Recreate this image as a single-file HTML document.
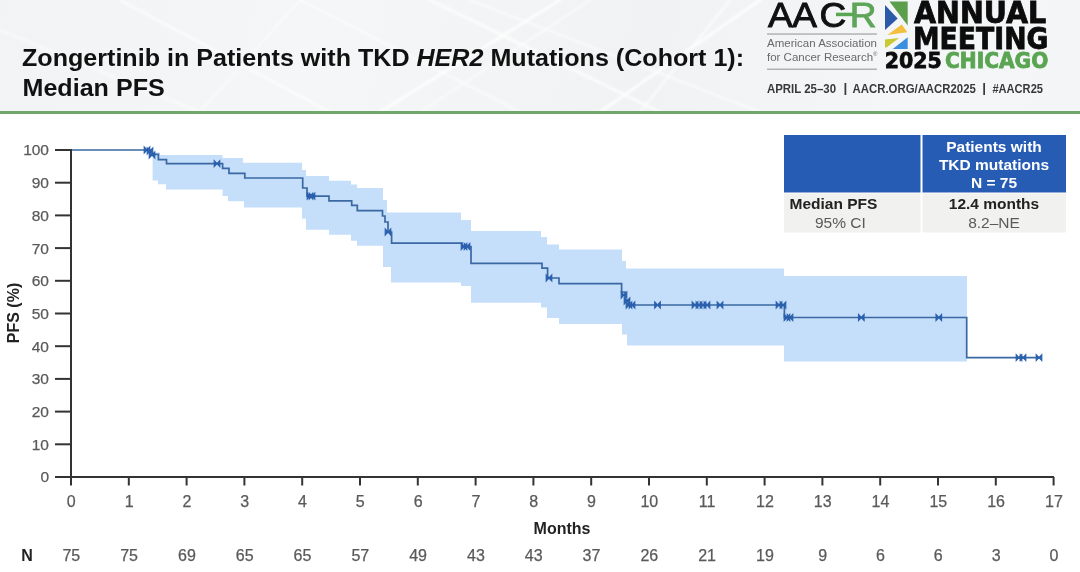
<!DOCTYPE html>
<html><head><meta charset="utf-8"><style>
html,body{margin:0;padding:0;}
body{width:1080px;height:572px;overflow:hidden;position:relative;background:#fff;font-family:"Liberation Sans",Arial,sans-serif;}
#hdr{position:absolute;left:0;top:0;width:1080px;height:112px;background:linear-gradient(100deg,#f1f3f4 0%,#f5f6f7 30%,#f1f2f4 60%,#f5f6f7 85%,#f4f5f6 100%);overflow:hidden;}
#green{position:absolute;left:0;top:111.2px;width:1080px;height:3.2px;background:#6fa66a;}
svg{position:absolute;left:0;top:0;}
</style></head><body>
<div id="hdr"><svg width="1080" height="112" viewBox="0 0 1080 112" style="position:absolute;left:0;top:0">
<defs><filter id="bl" x="-5%" y="-5%" width="110%" height="110%"><feGaussianBlur stdDeviation="1.2"/></filter></defs><g stroke="#ffffff" fill="none" filter="url(#bl)" stroke-linecap="round">
<line x1="120" y1="0" x2="330" y2="112" stroke-width="2.4" stroke-opacity="0.7"/>
<line x1="300" y1="0" x2="520" y2="112" stroke-width="2.0" stroke-opacity="0.6"/>
<line x1="430" y1="0" x2="660" y2="112" stroke-width="3.0" stroke-opacity="0.7"/>
<line x1="470" y1="0" x2="760" y2="112" stroke-width="2.0" stroke-opacity="0.6"/>
<line x1="380" y1="112" x2="560" y2="0" stroke-width="3.0" stroke-opacity="0.8"/>
<line x1="420" y1="112" x2="590" y2="0" stroke-width="2.0" stroke-opacity="0.6"/>
<line x1="600" y1="112" x2="760" y2="0" stroke-width="3.0" stroke-opacity="0.8"/>
<line x1="640" y1="112" x2="730" y2="0" stroke-width="2.0" stroke-opacity="0.7"/>
<line x1="200" y1="112" x2="300" y2="0" stroke-width="2.0" stroke-opacity="0.5"/>
<line x1="0" y1="30" x2="200" y2="112" stroke-width="4.0" stroke-opacity="0.4"/>
</g></svg></div>
<div id="green"></div>
<svg width="1080" height="572" viewBox="0 0 1080 572">
<g font-family="Liberation Sans, Arial, sans-serif" font-size="24" font-weight="bold" fill="#111" transform="translate(22,0) scale(1.046,1)">
<text x="0" y="66.2">Zongertinib in Patients with TKD <tspan font-style="italic">HER2</tspan> Mutations (Cohort 1):</text>
<text x="0.5" y="96.4">Median PFS</text>
</g>

<g>
<text transform="translate(768,27) scale(1.06,1)" x="0 23 48.6 77.2" y="0" font-family="Liberation Sans, Arial, sans-serif" font-size="35" fill="#111" stroke="#111" stroke-width="0.9">AAC<tspan fill="#5ea55a" stroke="#5ea55a">R</tspan></text>
<rect x="836" y="12.7" width="18" height="3.5" fill="#5aa552"/>
<rect x="767" y="33.4" width="110" height="1.3" fill="#a8a8a8"/>
<text x="767" y="47" font-family="Liberation Sans, Arial, sans-serif" font-size="11.5" fill="#6a6a6a">American Association</text>
<text x="767" y="60.5" font-family="Liberation Sans, Arial, sans-serif" font-size="11.5" fill="#6a6a6a">for Cancer Research<tspan font-size="6" dy="-5">®</tspan></text>
<rect x="767" y="68.6" width="110" height="1.3" fill="#a8a8a8"/>
<polygon points="889.5,1.4 907.7,1.4 907.7,25.5" fill="#5b9f4c"/>
<polygon points="885,5 885,30 897.7,18.6" fill="#2b5aa9"/>
<polygon points="887.3,35 901.8,24.5 907.3,32.3" fill="#f3bf3e"/>
<polygon points="885,39.5 899,38 886.5,47.5 885,47.5" fill="#c9c935"/>
<polygon points="907.7,37.3 907.7,49 892.7,49" fill="#3b8fde"/>
<g font-family="DejaVu Sans, sans-serif" font-weight="bold" fill="#0c0c0c" stroke="#0c0c0c" stroke-width="0.8">
<text x="0" y="0" font-size="29.5" transform="translate(914,22.9) scale(0.967,1)">ANNUAL</text>
<text x="0" y="0" font-size="29.5" transform="translate(913,48.6) scale(0.905,1)">MEETING</text>
<text x="0" y="0" font-size="20.5" transform="translate(884.8,68.3)">2025</text>
<text x="0" y="0" font-size="20.5" transform="translate(945,68.3) scale(0.985,1)" fill="#5aa552" stroke="#5aa552">CHICAGO</text>
</g>
<g font-family="Liberation Sans, Arial, sans-serif" font-size="12.5" font-weight="bold" fill="#383838">
<text x="767" y="92.6" textLength="69" lengthAdjust="spacingAndGlyphs">APRIL 25–30</text>
<text x="843.6" y="91.9" font-size="13.5">|</text>
<text x="852.6" y="92.6" textLength="123.2" lengthAdjust="spacingAndGlyphs">AACR.ORG/AACR2025</text>
<text x="982.3" y="91.9" font-size="13.5">|</text>
<text x="992.4" y="92.6" textLength="50.6" lengthAdjust="spacingAndGlyphs">#AACR25</text></g>
</g>
<path d="M152.6,152.5 H160 V155 H222.6 V158 H243 V162.8 H302 V170 H306 V176 H329 V180.8 H351 V184.5 H357 V188 H383 V200 H387 V212.6 H461 V220 H471 V231 H541 V237 H547 V244.5 H559 V249.4 H622 V261 H626 V268.4 H784 V276 H967 V361.4 H784 V345.5 H627 V334.5 H622 V324 H559 V318 H547 V307.6 H541 V302.7 H471 V286 H461 V282.4 H391 V267 H383 V245.7 H357 V240.8 H351 V234.7 H329 V229.8 H306 V218.8 H302 V207.5 H244 V201.3 H228 V196 H222.6 V189.5 H166 V184.2 H158 V180.4 H152.6 Z" fill="#c5defa"/>
<path d="M71,150 H150 V154.4 H158.4 V159.7 H166.5 V163.6 H222.6 V168.3 H229 V173.3 H244.8 V178 H302.7 V188 H307 V196.2 H329 V200.9 H351.7 V205.3 H357.3 V210.7 H382.5 V216 H385 V222 H388 V232 H391.6 V243.2 H462 V246.5 H471 V263.3 H542 V268.2 H547.6 V278 H559 V283.6 H621.6 V292 H625 V300 H629 V305 H784.4 V317.5 H966.7 V357.6 H1040" fill="none" stroke="#3a68a3" stroke-width="1.7"/>
<g stroke="#2a60ad" stroke-width="1.1" fill="#2a60ad" stroke-linejoin="miter"><path d="M144.2,147 L149.8,153 L149.8,147 L144.2,153 Z"/><path d="M147.2,148 L152.8,154 L152.8,148 L147.2,154 Z"/><path d="M149.2,152 L154.8,158 L154.8,152 L149.2,158 Z"/><path d="M214.2,160.6 L219.8,166.6 L219.8,160.6 L214.2,166.6 Z"/><path d="M307.2,193.2 L312.8,199.2 L312.8,193.2 L307.2,199.2 Z"/><path d="M309.2,193.2 L314.8,199.2 L314.8,193.2 L309.2,199.2 Z"/><path d="M385.2,229 L390.8,235 L390.8,229 L385.2,235 Z"/><path d="M461.2,243.5 L466.8,249.5 L466.8,243.5 L461.2,249.5 Z"/><path d="M464.2,243.5 L469.8,249.5 L469.8,243.5 L464.2,249.5 Z"/><path d="M546.2,275 L551.8,281 L551.8,275 L546.2,281 Z"/><path d="M621.2,292 L626.8,298 L626.8,292 L621.2,298 Z"/><path d="M624.2,298 L629.8,304 L629.8,298 L624.2,304 Z"/><path d="M626.2,302 L631.8,308 L631.8,302 L626.2,308 Z"/><path d="M629.2,302 L634.8,308 L634.8,302 L629.2,308 Z"/><path d="M654.7,302 L660.3,308 L660.3,302 L654.7,308 Z"/><path d="M692.2,302 L697.8,308 L697.8,302 L692.2,308 Z"/><path d="M696.2,302 L701.8,308 L701.8,302 L696.2,308 Z"/><path d="M700.2,302 L705.8,308 L705.8,302 L700.2,308 Z"/><path d="M704.2,302 L709.8,308 L709.8,302 L704.2,308 Z"/><path d="M717.2,302 L722.8,308 L722.8,302 L717.2,308 Z"/><path d="M776.2,302 L781.8,308 L781.8,302 L776.2,308 Z"/><path d="M780.2,302 L785.8,308 L785.8,302 L780.2,308 Z"/><path d="M784.2,314.5 L789.8,320.5 L789.8,314.5 L784.2,320.5 Z"/><path d="M787.2,314.5 L792.8,320.5 L792.8,314.5 L787.2,320.5 Z"/><path d="M858.5,314.5 L864.0999999999999,320.5 L864.0999999999999,314.5 L858.5,320.5 Z"/><path d="M936.0,314.5 L941.5999999999999,320.5 L941.5999999999999,314.5 L936.0,320.5 Z"/><path d="M1016.2,354.6 L1021.8,360.6 L1021.8,354.6 L1016.2,360.6 Z"/><path d="M1020.2,354.6 L1025.8,360.6 L1025.8,354.6 L1020.2,360.6 Z"/><path d="M1036.2,354.6 L1041.8,360.6 L1041.8,354.6 L1036.2,360.6 Z"/></g>
<g stroke="#333" stroke-width="2"><line x1="55" y1="477.0" x2="71" y2="477.0"/><line x1="55" y1="444.3" x2="71" y2="444.3"/><line x1="55" y1="411.6" x2="71" y2="411.6"/><line x1="55" y1="378.9" x2="71" y2="378.9"/><line x1="55" y1="346.2" x2="71" y2="346.2"/><line x1="55" y1="313.5" x2="71" y2="313.5"/><line x1="55" y1="280.8" x2="71" y2="280.8"/><line x1="55" y1="248.1" x2="71" y2="248.1"/><line x1="55" y1="215.4" x2="71" y2="215.4"/><line x1="55" y1="182.7" x2="71" y2="182.7"/><line x1="55" y1="150.0" x2="71" y2="150.0"/><line x1="71.0" y1="477" x2="71.0" y2="485.5"/><line x1="128.8" y1="477" x2="128.8" y2="485.5"/><line x1="186.6" y1="477" x2="186.6" y2="485.5"/><line x1="244.4" y1="477" x2="244.4" y2="485.5"/><line x1="302.2" y1="477" x2="302.2" y2="485.5"/><line x1="360.0" y1="477" x2="360.0" y2="485.5"/><line x1="417.8" y1="477" x2="417.8" y2="485.5"/><line x1="475.6" y1="477" x2="475.6" y2="485.5"/><line x1="533.4" y1="477" x2="533.4" y2="485.5"/><line x1="591.2" y1="477" x2="591.2" y2="485.5"/><line x1="649.0" y1="477" x2="649.0" y2="485.5"/><line x1="706.8" y1="477" x2="706.8" y2="485.5"/><line x1="764.6" y1="477" x2="764.6" y2="485.5"/><line x1="822.4" y1="477" x2="822.4" y2="485.5"/><line x1="880.2" y1="477" x2="880.2" y2="485.5"/><line x1="938.0" y1="477" x2="938.0" y2="485.5"/><line x1="995.8" y1="477" x2="995.8" y2="485.5"/><line x1="1053.6" y1="477" x2="1053.6" y2="485.5"/><line x1="71" y1="149" x2="71" y2="478"/><line x1="70" y1="477" x2="1054" y2="477"/></g>
<g font-family="Liberation Sans, Arial, sans-serif" font-size="15.5" fill="#5a5a5a" stroke="#5a5a5a" stroke-width="0.25" text-anchor="end"><text x="49" y="482.4">0</text><text x="49" y="449.7">10</text><text x="49" y="417.0">20</text><text x="49" y="384.3">30</text><text x="49" y="351.6">40</text><text x="49" y="318.9">50</text><text x="49" y="286.2">60</text><text x="49" y="253.5">70</text><text x="49" y="220.8">80</text><text x="49" y="188.1">90</text><text x="49" y="155.4">100</text></g>
<g font-family="Liberation Sans, Arial, sans-serif" font-size="16" fill="#5a5a5a" stroke="#5a5a5a" stroke-width="0.25" text-anchor="middle"><text x="71.3" y="507">0</text><text x="129.1" y="507">1</text><text x="186.9" y="507">2</text><text x="244.7" y="507">3</text><text x="302.5" y="507">4</text><text x="360.3" y="507">5</text><text x="418.1" y="507">6</text><text x="475.9" y="507">7</text><text x="533.7" y="507">8</text><text x="591.5" y="507">9</text><text x="649.3" y="507">10</text><text x="707.1" y="507">11</text><text x="764.9" y="507">12</text><text x="822.7" y="507">13</text><text x="880.5" y="507">14</text><text x="938.3" y="507">15</text><text x="996.1" y="507">16</text><text x="1053.9" y="507">17</text></g>
<g font-family="Liberation Sans, Arial, sans-serif" font-size="16" fill="#5a5a5a" stroke="#5a5a5a" stroke-width="0.25" text-anchor="middle"><text x="71.3" y="561">75</text><text x="129.1" y="561">75</text><text x="186.9" y="561">69</text><text x="244.7" y="561">65</text><text x="302.5" y="561">65</text><text x="360.3" y="561">57</text><text x="418.1" y="561">49</text><text x="475.9" y="561">43</text><text x="533.7" y="561">43</text><text x="591.5" y="561">37</text><text x="649.3" y="561">26</text><text x="707.1" y="561">21</text><text x="764.9" y="561">19</text><text x="822.7" y="561">9</text><text x="880.5" y="561">6</text><text x="938.3" y="561">6</text><text x="996.1" y="561">3</text><text x="1053.9" y="561">0</text></g>
<text x="27" y="561" font-family="Liberation Sans, Arial, sans-serif" font-size="16" font-weight="bold" fill="#222" text-anchor="middle">N</text>
<text x="562" y="533.7" font-family="Liberation Sans, Arial, sans-serif" font-size="16" font-weight="bold" fill="#222" text-anchor="middle">Months</text>
<text transform="translate(18.5,313) rotate(-90)" font-family="Liberation Sans, Arial, sans-serif" font-size="16" font-weight="bold" fill="#222" text-anchor="middle">PFS (%)</text>
<rect x="784" y="135" width="282" height="57.5" fill="#265cb4"/>
<rect x="784" y="193.5" width="282" height="39" fill="#f1f1f0"/>
<rect x="920.5" y="135" width="2" height="98" fill="#fff"/>
<g font-family="Liberation Sans, Arial, sans-serif" font-size="15.5" font-weight="bold" fill="#fff" text-anchor="middle">
<text x="994" y="151.7">Patients with</text><text x="994" y="170.1">TKD mutations</text><text x="994" y="188.4">N = 75</text></g>
<text x="833.5" y="208.6" font-family="Liberation Sans, Arial, sans-serif" font-size="15.5" font-weight="bold" fill="#222" text-anchor="middle">Median PFS</text>
<text x="840.4" y="228" font-family="Liberation Sans, Arial, sans-serif" font-size="15.5" fill="#5a5a5a" text-anchor="middle">95% CI</text>
<text x="994" y="208.6" font-family="Liberation Sans, Arial, sans-serif" font-size="15.5" font-weight="bold" fill="#222" text-anchor="middle">12.4 months</text>
<text x="994" y="228" font-family="Liberation Sans, Arial, sans-serif" font-size="15.5" fill="#5a5a5a" text-anchor="middle">8.2–NE</text>
</svg>
</body></html>
